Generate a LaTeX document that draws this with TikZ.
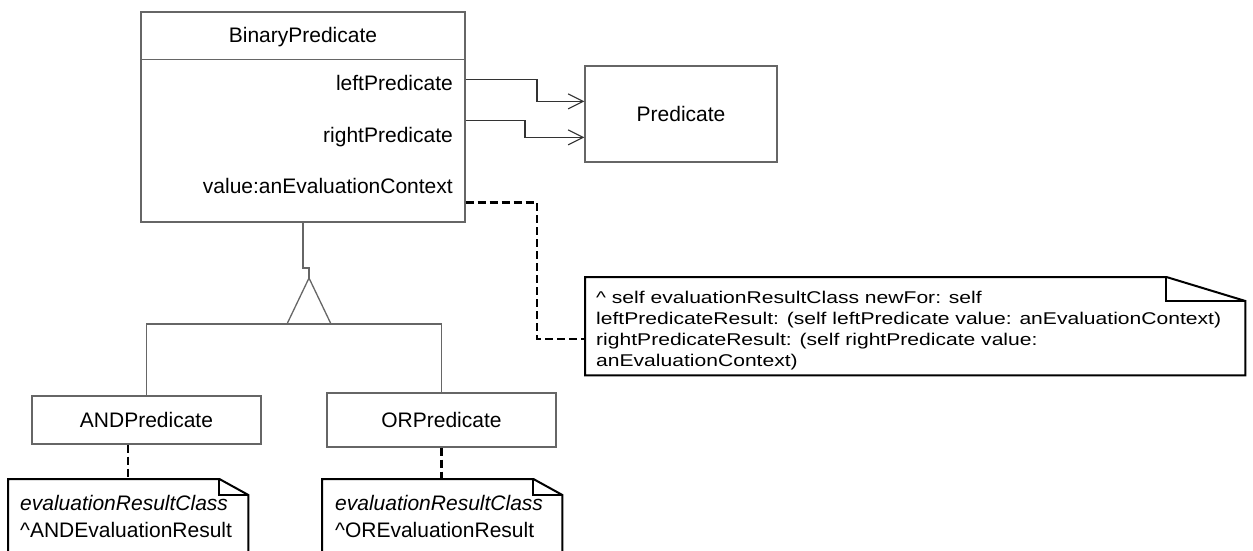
\documentclass[tikz,border=0pt]{standalone}
\usepackage{fontspec}
\setmainfont{Liberation Sans}
\newfontfamily\notefont{Liberation Sans}[FakeStretch=1.24]
\usetikzlibrary{arrows.meta,calc}

\begin{document}
\begin{tikzpicture}[x=1pt,y=-1pt,
  classbox/.style={draw=black!60, line width=1.3pt, inner sep=0pt,
    font=\fontsize{21}{25}\selectfont},
  member/.style={inner sep=0pt, font=\fontsize{21}{25}\selectfont},
  assoc/.style={draw=black!80, line width=1.1pt,
    -{Straight Barb[length=15pt,width=15pt,line width=1.1pt]}},
  gen/.style={draw=black!60, line width=1.3pt},
  noteframe/.style={draw=black, line width=2pt, line join=miter},
  notebody/.style={inner sep=0pt, anchor=north west},
  bignoteline/.style={anchor=base west, inner sep=0pt,
    font=\notefont\fontsize{17}{21}\selectfont},
  noteline/.style={anchor=base west, inner sep=0pt,
    font=\fontsize{21}{27}\selectfont},
  notelink/.style={draw=black, line width=2.6pt, dash pattern=on 8pt off 4pt},
]
\useasboundingbox (0,0) rectangle (1253,551);
\clip (0,0) rectangle (1253,551);

% ---- class BinaryPredicate with its members
\node[classbox, minimum width=324pt, minimum height=210pt] (bp) at (303,117) {};
\draw[gen] ([yshift=-48pt]bp.north west) -- ([yshift=-48pt]bp.north east);
\node[member, anchor=base] (bpname) at (303,43) {BinaryPredicate};
\node[member, anchor=base east] (lp) at (453,91) {leftPredicate};
\node[member, anchor=base east] (rp) at (453,142) {rightPredicate};
\node[member, anchor=base east] (val) at (453,193) {value:anEvaluationContext};

% ---- class Predicate
\node[classbox, minimum width=192pt, minimum height=96pt] (pred) at (681,114) {Predicate};

% ---- subclasses
\node[classbox, minimum width=229pt, minimum height=48pt] (and) at (146.5,420) {ANDPredicate};
\node[classbox, minimum width=229pt, minimum height=54pt] (or) at (441.5,420) {ORPredicate};

% ---- associations
\draw[assoc] ([yshift=-68pt]bp.north east) -| (537,91) |- ([yshift=-36pt]pred.north west);
\draw[assoc] ([yshift=-109pt]bp.north east) -| (525,130) |- ([yshift=-72pt]pred.north west);

% ---- generalization
\coordinate (apex) at (309,278);
\coordinate (genbar) at (309,324);
\draw[gen] (bp.south) |- (309,268) -- (apex);
\draw[gen, line join=miter] (apex) -- (331,324) -- (287,324) -- cycle;
\draw[gen] (and.north) |- (genbar) -| (or.north);

% ---- note on value:
\node[notebody, minimum width=660pt, minimum height=98pt] (bignote) at (585,277) {};
\draw[noteframe] ([xshift=-79pt]bignote.north east) -- (bignote.north west)
  -- (bignote.south west) -- (bignote.south east)
  -- ([yshift=-24pt]bignote.north east) -- cycle;
\draw[noteframe] ([xshift=-79pt]bignote.north east) |- ([yshift=-24pt]bignote.north east);
\node[bignoteline] (big1) at (596,303) {\textasciicircum{} self evaluationResultClass newFor: self};
\node[bignoteline] (big2) at (596,324) {leftPredicateResult: (self leftPredicate value: anEvaluationContext)};
\node[bignoteline] (big3) at (596,345) {rightPredicateResult: (self rightPredicate value:};
\node[bignoteline] (big4) at (596,366) {anEvaluationContext)};

% ---- notes on the subclasses
\node[notebody, minimum width=240pt, minimum height=100pt] (andnote) at (8,479) {};
\draw[noteframe] ([xshift=-29pt]andnote.north east) -- (andnote.north west)
  -- (andnote.south west) -- (andnote.south east)
  -- ([yshift=-16pt]andnote.north east) -- cycle;
\draw[noteframe] ([xshift=-29pt]andnote.north east) |- ([yshift=-16pt]andnote.north east);
\node[noteline] (and1) at (20,510) {\textit{evaluationResultClass}};
\node[noteline] (and2) at (20,537) {\textasciicircum ANDEvaluationResult};

\node[notebody, minimum width=240pt, minimum height=100pt] (ornote) at (322,479) {};
\draw[noteframe] ([xshift=-29pt]ornote.north east) -- (ornote.north west)
  -- (ornote.south west) -- (ornote.south east)
  -- ([yshift=-16pt]ornote.north east) -- cycle;
\draw[noteframe] ([xshift=-29pt]ornote.north east) |- ([yshift=-16pt]ornote.north east);
\node[noteline] (or1) at (335,510) {\textit{evaluationResultClass}};
\node[noteline] (or2) at (335,537) {\textasciicircum OREvaluationResult};

% ---- note links
\draw[notelink] ([yshift=20pt]bp.south east) -| (537,270) |- ([yshift=-62pt]bignote.north west);
\coordinate (andlink) at ([xshift=-18.5pt]and.south);
\draw[notelink] (andlink) -- (andlink |- andnote.north);
\draw[notelink] (or.south) -- (or.south |- ornote.north);
\end{tikzpicture}
\end{document}
